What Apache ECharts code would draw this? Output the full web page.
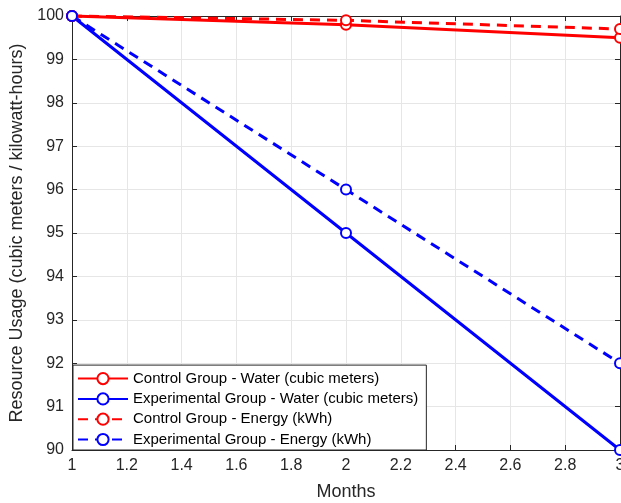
<!DOCTYPE html>
<html>
<head>
<meta charset="utf-8">
<script src="https://cdn.jsdelivr.net/npm/echarts@6/dist/echarts.min.js"></script>
<style>
  html, body { margin: 0; padding: 0; background: #fff; }
  #chart { width: 621px; height: 503px; }
</style>
</head>
<body>
<div id="chart"></div>
<script>
const months = [1, 2, 3];
const controlWater = [100, 99.8, 99.5];
const experimentalWater = [100, 95, 90];
const controlEnergy = [100, 99.9, 99.7];
const experimentalEnergy = [100, 96, 92];
const seriesNames = [
  "Control Group - Water (cubic meters)",
  "Experimental Group - Water (cubic meters)",
  "Control Group - Energy (kWh)",
  "Experimental Group - Energy (kWh)"
];

const font = "'Liberation Sans', Arial, sans-serif";

function pairs(values) {
  return months.map((m, i) => [m, values[i]]);
}

function lineSeries(name, values, color, dashed) {
  return {
    name: name,
    type: "line",
    data: pairs(values),
    symbol: "emptyCircle",
    symbolSize: 10,
    showSymbol: true,
    clip: false,
    lineStyle: { color: color, width: 3, type: dashed ? [10, 7] : "solid" },
    itemStyle: { color: color, borderColor: color, borderWidth: 3 },
    emphasis: { disabled: true },
    z: 3
  };
}

const axisGray = "#262626";
const gridGray = "#e6e6e6";

const chart = echarts.init(document.getElementById("chart"));
chart.setOption({
  animation: false,
  backgroundColor: "#fff",
  grid: { left: 72, right: 1, top: 16, bottom: 53, containLabel: false, outerBoundsMode: "none" },
  legend: {
    orient: "vertical",
    left: 73,
    bottom: 53,
    data: seriesNames,
    itemWidth: 50,
    itemHeight: 14,
    itemGap: 5.3,
    padding: [6, 8, 3, 4],
    backgroundColor: "#fff",
    borderColor: "#262626",
    borderWidth: 1,
    borderRadius: 0,
    textStyle: { fontFamily: font, fontSize: 15, lineHeight: 14, color: "#000" }
  },
  xAxis: [
    {
      type: "value",
      min: 1,
      max: 3,
      interval: 0.2,
      name: "Months",
      nameLocation: "middle",
      nameGap: 33,
      nameTextStyle: { fontFamily: font, fontSize: 18, color: "#262626" },
      axisLine: { show: true, lineStyle: { color: axisGray, width: 1 } },
      axisTick: { show: true, inside: true, length: 5, lineStyle: { color: axisGray } },
      axisLabel: {
        fontFamily: font, fontSize: 16, color: "#262626", margin: 8,
        formatter: (v) => String(Math.round(v * 10) / 10)
      },
      splitLine: { show: true, lineStyle: { color: gridGray, width: 1 } }
    },
    {
      type: "value",
      position: "top",
      min: 1,
      max: 3,
      interval: 0.2,
      axisLine: { show: true, onZero: false, lineStyle: { color: axisGray, width: 1 } },
      axisTick: { show: true, inside: true, length: 5, lineStyle: { color: axisGray } },
      axisLabel: { show: false },
      splitLine: { show: false }
    }
  ],
  yAxis: [
    {
      type: "value",
      min: 90,
      max: 100,
      interval: 1,
      name: "Resource Usage (cubic meters / kilowatt-hours)",
      nameLocation: "middle",
      nameGap: 39,
      nameTextStyle: { fontFamily: font, fontSize: 18, color: "#262626" },
      axisLine: { show: true, lineStyle: { color: axisGray, width: 1 } },
      axisTick: { show: true, inside: true, length: 5, lineStyle: { color: axisGray } },
      axisLabel: { fontFamily: font, fontSize: 16, color: "#262626", margin: 8 },
      splitLine: { show: true, lineStyle: { color: gridGray, width: 1 } }
    },
    {
      type: "value",
      position: "right",
      min: 90,
      max: 100,
      interval: 1,
      axisLine: { show: true, onZero: false, lineStyle: { color: axisGray, width: 1 } },
      axisTick: { show: true, inside: true, length: 5, lineStyle: { color: axisGray } },
      axisLabel: { show: false },
      splitLine: { show: false }
    }
  ],
  series: [
    lineSeries(seriesNames[0], controlWater, "#ff0000", false),
    lineSeries(seriesNames[1], experimentalWater, "#0000ff", false),
    lineSeries(seriesNames[2], controlEnergy, "#ff0000", true),
    lineSeries(seriesNames[3], experimentalEnergy, "#0000ff", true)
  ]
});
</script>
</body>
</html>
